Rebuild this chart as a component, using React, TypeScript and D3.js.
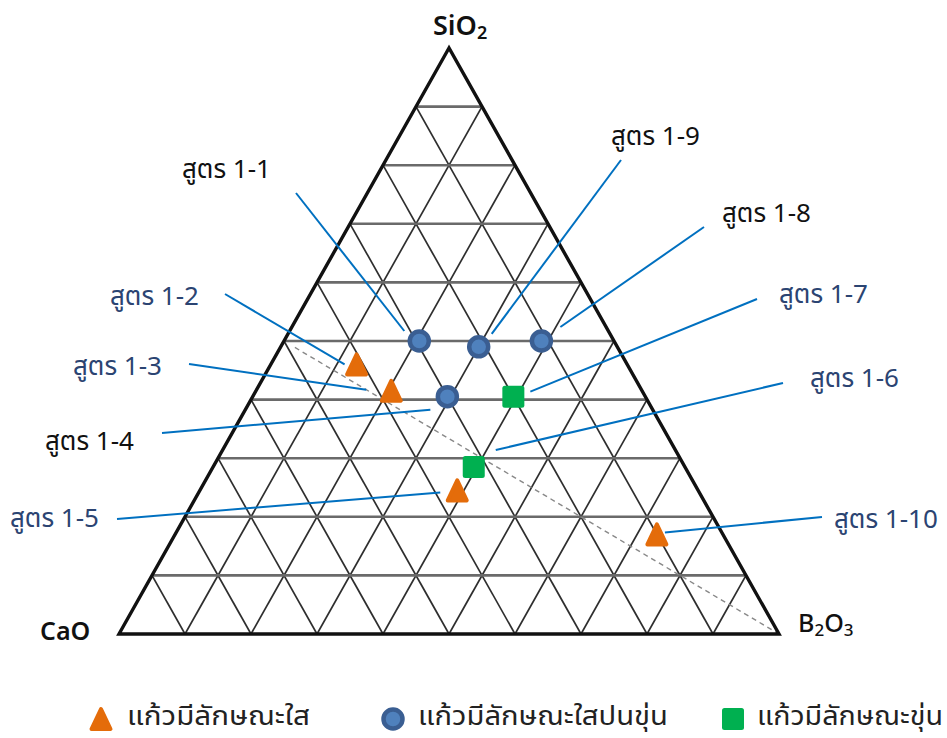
import React from "react";
import * as d3 from "d3";

// Glass formulas plotted in the SiO2–CaO–B2O3 ternary system (mol %)
const formulas = ["สูตร 1-1", "สูตร 1-2", "สูตร 1-3", "สูตร 1-4", "สูตร 1-5", "สูตร 1-6", "สูตร 1-7", "สูตร 1-8", "สูตร 1-9", "สูตร 1-10"];
const sio2 = [50, 46, 41.5, 40.5, 24.5, 28.5, 40.5, 50, 49, 17];
const cao = [29.5, 41, 38, 30, 36.5, 32, 20, 11, 21, 10];
const b2o3 = [20.5, 13, 20.5, 29.5, 39, 39.5, 39.5, 39, 30, 73];
// appearance class of each formula: 0 = clear, 1 = clear-turbid, 2 = turbid
const appearance = [1, 0, 0, 1, 0, 2, 2, 1, 1, 0];

const appearanceNames = ["แก้วมีลักษณะใส", "แก้วมีลักษณะใสปนขุ่น", "แก้วมีลักษณะขุ่น"];
const cornerNames = { top: "SiO", left: "CaO", right: "B" };
const gridSteps = d3.range(1, 10); // 10 % grid

// ---- layout ----
const W = 947;
const H = 738;
const baseX = d3.scaleLinear().domain([0, 1]).range([119, 779]);
const heightY = d3.scaleLinear().domain([0, 1]).range([634, 48]);

const project = (s: number, c: number, b: number) => {
  const t = s + c + b;
  const ss = s / t;
  const bb = b / t;
  return [baseX(bb + ss / 2), heightY(ss)] as [number, number];
};

// label anchor (text start, baseline), leader start, leader end offset from marker
const labelLayout = [
  { tx: 182, ty: 178, lx: 296, ly: 193, dx: -15, dy: -10, blue: false },
  { tx: 110, ty: 305, lx: 225, ly: 294, dx: -12, dy: 0, blue: true },
  { tx: 73, ty: 375, lx: 189, ly: 364, dx: -25, dy: -1, blue: true },
  { tx: 45, ty: 450, lx: 162, ly: 433, dx: -17, dy: 13, blue: false },
  { tx: 10, ty: 527, lx: 117, ly: 519, dx: -17, dy: 2, blue: true },
  { tx: 810, ty: 387, lx: 783, ly: 383, dx: 22, dy: -17, blue: true },
  { tx: 779, ty: 303, lx: 757, ly: 299, dx: 17, dy: -5, blue: true },
  { tx: 722, ty: 222, lx: 704, ly: 227, dx: 19, dy: -14, blue: false },
  { tx: 611, ty: 145, lx: 621, ly: 160, dx: 13, dy: -13, blue: false },
  { tx: 834, ty: 528, lx: 822, ly: 517, dx: 8, dy: -2, blue: true },
];
const legendLayout = [
  { mx: 101, tx: 127, len: 183 },
  { mx: 393, tx: 418, len: 250 },
  { mx: 733, tx: 757, len: 186 },
];

const ORANGE = "#E46C0A";
const GREEN = "#00B050";
const BLUE_RING = "#3A5E92";
const BLUE_FILL = "#4F81BD";
const LEADER = "#0070C0";
const LABEL_BLUE = "#2B4472";
const FONT = "Tahoma, 'Noto Sans Thai', 'Noto Sans', 'DejaVu Sans', sans-serif";

const trianglePath = (w: number, h: number) => `M0,${-h / 2}L${w / 2},${h / 2}L${-w / 2},${h / 2}Z`;

function Marker({ kind, x, y }: { kind: number; x: number; y: number }) {
  if (kind === 0) {
    return (
      <path
        d={trianglePath(19, 20)}
        transform={`translate(${x},${y})`}
        fill={ORANGE}
        stroke={ORANGE}
        strokeWidth={4}
        strokeLinejoin="round"
      />
    );
  }
  if (kind === 1) {
    return <circle cx={x} cy={y} r={9.5} fill={BLUE_FILL} stroke={BLUE_RING} strokeWidth={4.5} />;
  }
  return <rect x={x - 11} y={y - 11} width={22} height={22} rx={2.5} fill={GREEN} />;
}

export default function App() {
  const top = project(1, 0, 0);
  const left = project(0, 1, 0);
  const right = project(0, 0, 1);

  // lines of constant SiO2 (horizontal), constant CaO and constant B2O3
  const hLines = gridSteps.map((k) => [project(k, 10 - k, 0), project(k, 0, 10 - k)]);
  const cLines = gridSteps.map((k) => [project(10 - k, k, 0), project(0, k, 10 - k)]);
  const bLines = gridSteps.map((k) => [project(10 - k, 0, k), project(0, 10 - k, k)]);

  // guide from the B2O3 corner to the 50 % point on the SiO2–CaO edge
  const guideFrom = project(0.5, 0.5, 0);
  const guideStart: [number, number] = [
    guideFrom[0] + (right[0] - guideFrom[0]) * 0.022,
    guideFrom[1] + (right[1] - guideFrom[1]) * 0.022,
  ];

  const points = formulas.map((name, i) => ({ name, p: project(sio2[i], cao[i], b2o3[i]), kind: appearance[i] }));

  const line = d3.line();

  return (
    <svg width={W} height={H} style={{ position: "absolute", left: 0, top: 0, background: "#fff" }} fontFamily={FONT}>
      <rect width={W} height={H} fill="#fff" />
      <g>
        {cLines.concat(bLines).map((seg, i) => (
          <path key={`d${i}`} d={line(seg) || ""} stroke="#2e2e2e" strokeWidth={1.7} fill="none" />
        ))}
        {hLines.map((seg, i) => (
          <path key={`h${i}`} d={line(seg) || ""} stroke="#6a6a6a" strokeWidth={2.6} fill="none" />
        ))}
        <path d={line([guideStart, right]) || ""} stroke="#888" strokeWidth={1.4} strokeDasharray="5 4" fill="none" />
        <path d={(line([top, left, right]) || "") + "Z"} stroke="#111" strokeWidth={3.4} fill="none" strokeLinejoin="miter" />
      </g>

      {/* corner labels */}
      <text x={433} y={35} fontSize={27} fontWeight={600} fill="#111">
        {cornerNames.top}
        <tspan fontSize={18} dy={4}>2</tspan>
      </text>
      <text x={40} y={640} fontSize={25} fontWeight={600} fill="#111">{cornerNames.left}</text>
      <text x={798} y={632} fontSize={25} fontWeight={500} fill="#111">
        {cornerNames.right}
        <tspan fontSize={17} dy={4}>2</tspan>
        <tspan fontSize={25} dy={-4}>O</tspan>
        <tspan fontSize={17} dy={4}>3</tspan>
      </text>

      {/* leader lines */}
      {points.map((d, i) => {
        const l = labelLayout[i];
        return (
          <path
            key={`l${i}`}
            d={line([[l.lx, l.ly], [d.p[0] + l.dx, d.p[1] + l.dy]]) || ""}
            stroke={LEADER}
            strokeWidth={2}
            fill="none"
          />
        );
      })}

      {/* markers */}
      {points.map((d, i) => (
        <Marker key={`m${i}`} kind={d.kind} x={d.p[0]} y={d.p[1]} />
      ))}

      {/* formula labels */}
      {points.map((d, i) => {
        const l = labelLayout[i];
        return (
          <text key={`t${i}`} x={l.tx} y={l.ty} fontSize={26} fill={l.blue ? LABEL_BLUE : "#111"}>
            {d.name}
          </text>
        );
      })}

      {/* legend */}
      <g>
        {appearanceNames.map((name, i) => (
          <g key={`lg${i}`}>
            <Marker kind={i} x={legendLayout[i].mx} y={719} />
            <text
              x={legendLayout[i].tx}
              y={725}
              fontSize={27}
              fill="#222"
              textLength={legendLayout[i].len}
              lengthAdjust="spacingAndGlyphs"
            >
              {name}
            </text>
          </g>
        ))}
      </g>
    </svg>
  );
}
